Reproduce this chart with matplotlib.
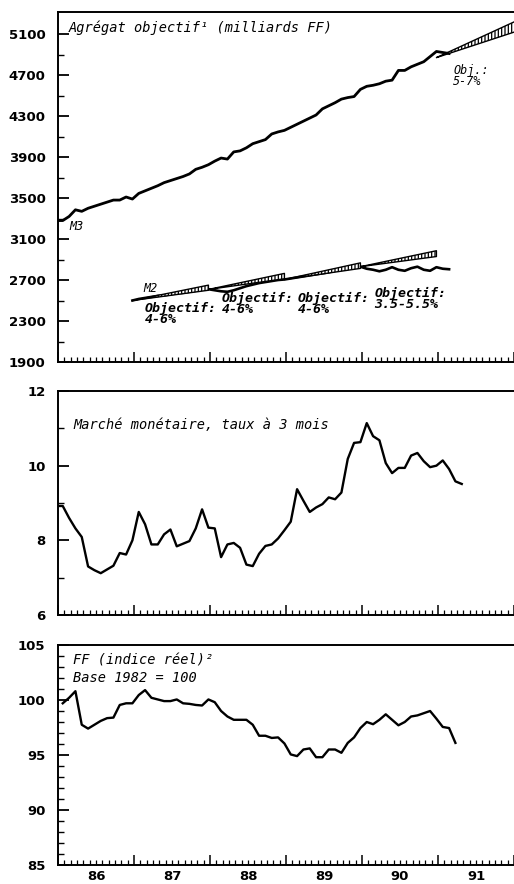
import numpy as np
import matplotlib
matplotlib.use("Agg")
import matplotlib.pyplot as plt
from matplotlib.transforms import blended_transform_factory

# ---------------- data ----------------
# monthly series; first value belongs to the month given by *_start (year, month)
m3_start = (1985, 12)
m3_values = [3280, 3280, 3320, 3385, 3370, 3400, 3420, 3440, 3460, 3480,
             3480, 3510, 3490, 3545, 3570, 3595, 3620, 3650, 3670, 3690,
             3710, 3735, 3780, 3800, 3825, 3860, 3890, 3880, 3950, 3960,
             3990, 4030, 4050, 4070, 4125, 4145, 4160, 4190, 4220, 4250,
             4280, 4310, 4370, 4400, 4430, 4465, 4480, 4490, 4560, 4590,
             4600, 4615, 4640, 4650, 4745, 4745, 4780, 4805, 4830, 4880,
             4930, 4920, 4910]

m2_start = (1986, 12)
m2_values = [2500, 2515, 2525, 2535, 2545, 2550, 2560, 2570, 2575, 2585,
             2595, 2605, 2610, 2600, 2590, 2585, 2600, 2620, 2640, 2655,
             2670, 2680, 2690, 2700, 2705, 2715, 2725, 2735, 2745, 2755,
             2765, 2775, 2790, 2800, 2810, 2820, 2830, 2810, 2800, 2785,
             2800, 2825, 2800, 2790, 2815, 2830, 2800, 2790, 2825, 2810,
             2805]

mm_start = (1985, 12)
mm_values = [8.92, 8.92, 8.60, 8.32, 8.09, 7.30, 7.20, 7.12, 7.22, 7.32,
             7.66, 7.62, 8.00, 8.76, 8.43, 7.89, 7.89, 8.16, 8.29, 7.84,
             7.91, 7.98, 8.32, 8.83, 8.34, 8.32, 7.55, 7.89, 7.93, 7.80,
             7.35, 7.31, 7.64, 7.85, 7.89, 8.05, 8.27, 8.50, 9.37, 9.06,
             8.76, 8.88, 8.97, 9.15, 9.10, 9.28, 10.18, 10.61, 10.63, 11.14,
             10.79, 10.68, 10.07, 9.80, 9.94, 9.94, 10.27, 10.34, 10.12, 9.96,
             10.00, 10.14, 9.91, 9.58, 9.51]

ff_start = (1986, 1)
ff_values = [99.7, 100.2, 100.8, 97.75, 97.4, 97.75, 98.1, 98.35, 98.4, 99.55,
             99.7, 99.7, 100.45, 100.9, 100.2, 100.05, 99.9, 99.9, 100.05, 99.7,
             99.65, 99.55, 99.5, 100.05, 99.8, 99.0, 98.5, 98.2, 98.2, 98.2,
             97.75, 96.75, 96.75, 96.55, 96.6, 96.05, 95.05, 94.9, 95.5, 95.6,
             94.8, 94.8, 95.5, 95.5, 95.2, 96.1, 96.6, 97.45, 98.0, 97.8,
             98.2, 98.7, 98.2, 97.7, 98.0, 98.5, 98.6, 98.8, 99.0, 98.3,
             97.55, 97.45, 96.1]

# monetary growth objectives: base month (year, month), base level, low %, high %
m2_obj_base_month = [(1986, 12), (1987, 12), (1988, 12), (1989, 12)]
m2_obj_base = [2500, 2608, 2705, 2830]
m2_obj_low = [4.0, 4.0, 4.0, 3.5]
m2_obj_high = [6.0, 6.0, 6.0, 5.5]
m2_obj_labels = ["Objectif:\n4-6%", "Objectif:\n4-6%", "Objectif:\n4-6%",
                 "Objectif:\n3.5-5.5%"]
m3_obj_base_month = (1990, 12)
m3_obj_base = 4870
m3_obj_low = 5.0
m3_obj_high = 7.0
m3_obj_label = "Obj.:\n5-7%"

year_labels = ["86", "87", "88", "89", "90", "91"]
years = [1986, 1987, 1988, 1989, 1990, 1991]

# ---------------- helpers ----------------
def month_pos(start, n):
    y, m = start
    return y + (m - 1 + np.arange(n) + 0.75) / 12.0

W, H = 514, 884
fig = plt.figure(figsize=(W / 100, H / 100), dpi=100)
fig.patch.set_facecolor("white")
plt.rcParams["hatch.linewidth"] = 0.9

XL = 58
XMAX = 1986 + (W - XL) / 77.2
mono = "DejaVu Sans Mono"
tick_font = "DejaVu Sans"
TFS = 9.5
LFS = 9.8

def make_ax(top, bottom):
    ax = fig.add_axes([XL / W, (H - bottom) / H, (W - XL) / W, (bottom - top) / H])
    ax.set_xlim(1986, XMAX)
    ax.spines["right"].set_visible(False)
    for s in ["left", "top", "bottom"]:
        ax.spines[s].set_linewidth(1.4)
    ax.set_xticks(years + [1992])
    ax.set_xticks(np.arange(1986, 1992, 1 / 12.0), minor=True)
    ax.tick_params(axis="x", which="major", direction="in", length=7, width=1.1,
                   labelbottom=False)
    ax.tick_params(axis="x", which="minor", direction="in", length=3.5, width=0.9)
    ax.tick_params(axis="y", which="major", direction="in", length=8, width=1.3,
                   pad=9)
    ax.tick_params(axis="y", which="minor", direction="in", length=4, width=1.0)
    return ax

def style_yticks(ax):
    for lab in ax.get_yticklabels():
        lab.set_fontfamily(tick_font)
        lab.set_fontsize(TFS)
        lab.set_fontweight("bold")

# ---------------- top panel ----------------
ax1 = make_ax(12, 362)
ax1.set_ylim(1900, 5315)
ax1.set_yticks(np.arange(1900, 5101, 400))
ax1.set_yticks(np.arange(2100, 5000, 400), minor=True)
style_yticks(ax1)

x_m3 = month_pos(m3_start, len(m3_values))
ax1.plot(x_m3, m3_values, color="black", lw=2.0, solid_joinstyle="round")
x_m2 = month_pos(m2_start, len(m2_values))
ax1.plot(x_m2, m2_values, color="black", lw=1.9, solid_joinstyle="round")

for bm, base, lo, hi in zip(m2_obj_base_month, m2_obj_base, m2_obj_low, m2_obj_high):
    x0 = month_pos(bm, 1)[0]
    xs = np.linspace(x0, x0 + 1, 30)
    low = base * (1 + lo / 100 * (xs - x0))
    high = base * (1 + hi / 100 * (xs - x0))
    ax1.fill_between(xs, low, high, facecolor="white", edgecolor="black",
                     hatch="|||||", lw=1.0, zorder=3)

x0 = month_pos(m3_obj_base_month, 1)[0]
xs = np.linspace(x0, x0 + 1.2, 30)
ax1.fill_between(xs, m3_obj_base * (1 + m3_obj_low / 100 * (xs - x0)),
                 m3_obj_base * (1 + m3_obj_high / 100 * (xs - x0)),
                 facecolor="white", edgecolor="black", hatch="|||||", lw=1.0, zorder=3)

lab_pos = [(1987.14, 2485), (1988.15, 2580), (1989.15, 2580), (1990.16, 2635)]
for (lx, ly), txt in zip(lab_pos, m2_obj_labels):
    ax1.text(lx, ly, txt, family=mono, style="italic", fontsize=9.5,
             fontweight="bold", va="top", ha="left", linespacing=0.8)
ax1.text(1991.2, 4805, m3_obj_label, family=mono, style="italic", fontsize=8.5,
         va="top", ha="left", linespacing=0.8)

ax1.text(0.024, 0.955, "Agrégat objectif¹ (milliards FF)", transform=ax1.transAxes,
         family=mono, style="italic", fontsize=LFS, va="center", ha="left")
ax1.text(1986.15, 3225, "M3", family=mono, style="italic", fontsize=8.5,
         va="center", ha="left")
ax1.text(1987.12, 2615, "M2", family=mono, style="italic", fontsize=8.5,
         va="center", ha="left")

# ---------------- middle panel ----------------
ax2 = make_ax(391, 615)
ax2.set_ylim(6, 12)
ax2.set_yticks([6, 8, 10, 12])
ax2.set_yticks([7, 9, 11], minor=True)
style_yticks(ax2)
ax2.plot(month_pos(mm_start, len(mm_values)), mm_values, color="black", lw=1.7)
ax2.text(0.033, 0.85, "Marché monétaire, taux à 3 mois", transform=ax2.transAxes,
         family=mono, style="italic", fontsize=LFS, va="center", ha="left")

# ---------------- bottom panel ----------------
ax3 = make_ax(645, 865)
ax3.set_ylim(85, 105)
ax3.set_yticks(np.arange(85, 106, 5))
ax3.set_yticks(np.arange(86, 105, 1), minor=True)
style_yticks(ax3)
ax3.plot(month_pos(ff_start, len(ff_values)), ff_values, color="black", lw=1.7)
ax3.text(0.033, 0.93, "FF (indice réel)²", transform=ax3.transAxes,
         family=mono, style="italic", fontsize=LFS, va="center", ha="left")
ax3.text(0.033, 0.85, "Base 1982 = 100", transform=ax3.transAxes,
         family=mono, style="italic", fontsize=LFS, va="center", ha="left")

tr = blended_transform_factory(ax3.transData, ax3.transAxes)
for yr, lab in zip(years, year_labels):
    ax3.text(yr + 0.5, -12 / 220, lab, transform=tr, ha="center", va="center",
             family=tick_font, fontsize=TFS, fontweight="bold", clip_on=False)

fig.savefig("out.png", dpi=100, facecolor="white")
